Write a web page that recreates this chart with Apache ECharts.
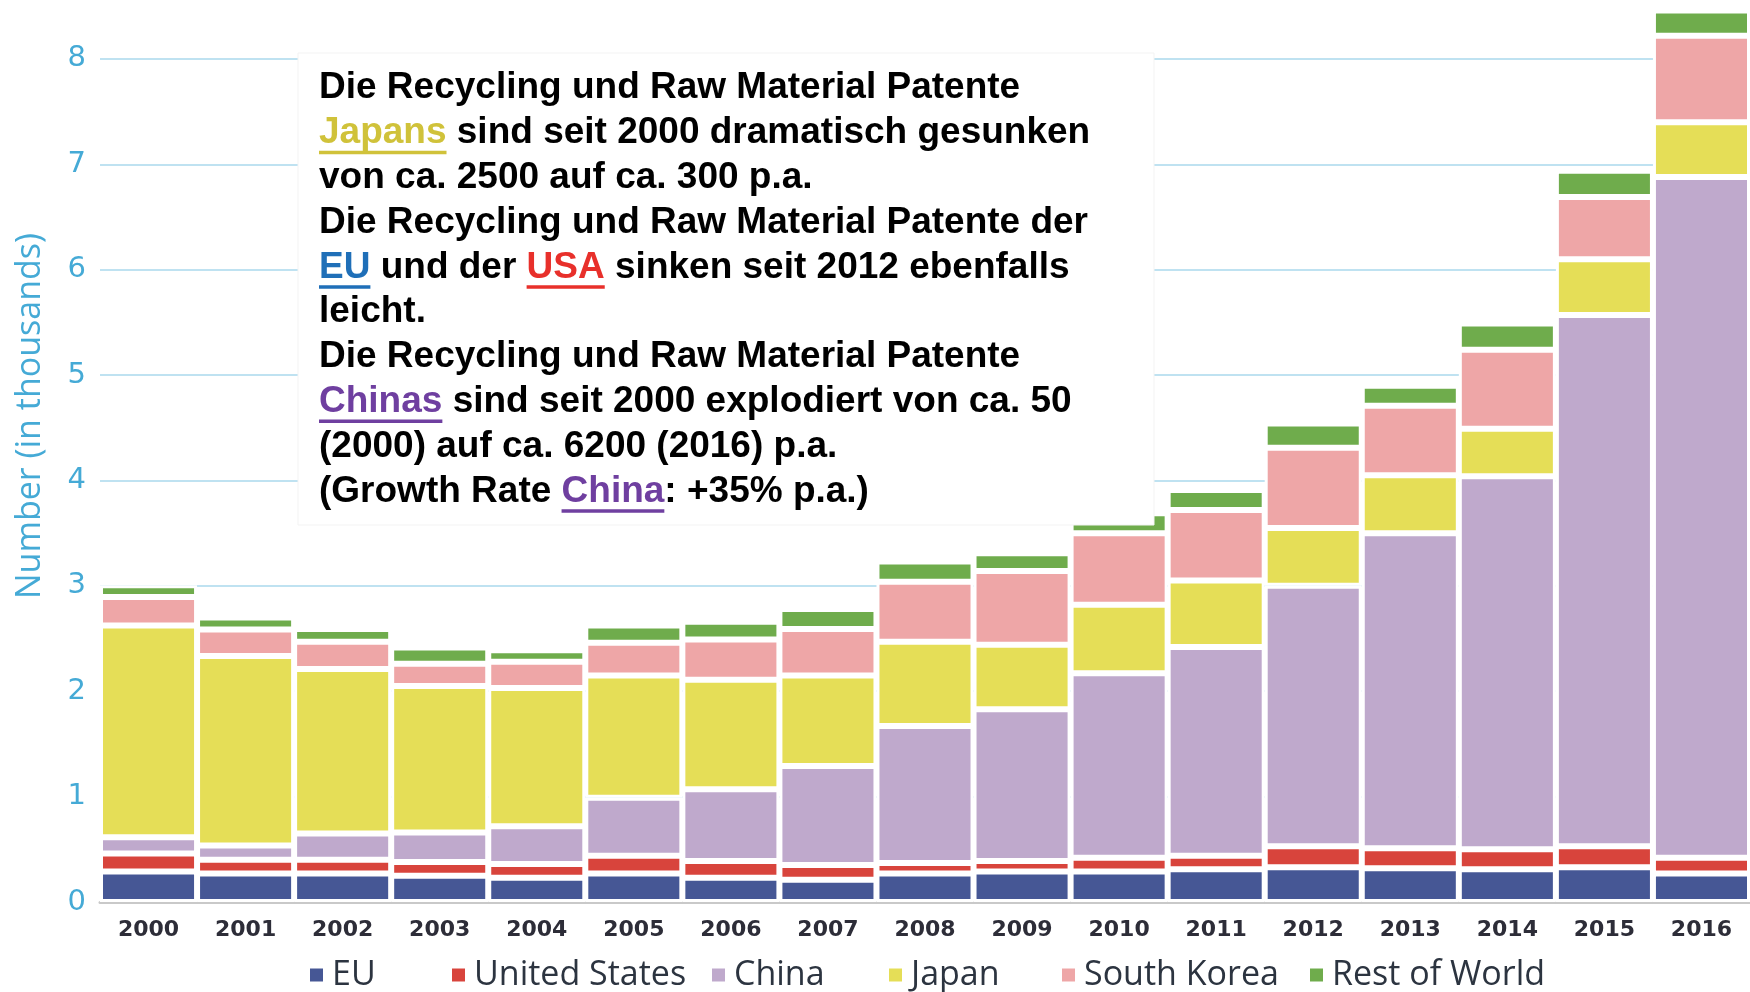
<!DOCTYPE html>
<html>
<head>
<meta charset="utf-8">
<title>Recycling and Raw Material Patents</title>
<script src="https://cdn.jsdelivr.net/npm/echarts@6/dist/echarts.min.js"></script>
<style>
  html, body { margin: 0; padding: 0; background: #fff; }
  #chart { width: 1750px; height: 992px; }
</style>
</head>
<body>
<div id="chart"></div>
<script>
// Patent filings per year, in thousands
const years = ['2000', '2001', '2002', '2003', '2004', '2005', '2006', '2007', '2008',
               '2009', '2010', '2011', '2012', '2013', '2014', '2015', '2016'];
const seriesNames = ['EU', 'United States', 'China', 'Japan', 'South Korea', 'Rest of World'];
const euValues    = [0.29, 0.27, 0.27, 0.25, 0.23, 0.27, 0.23, 0.21, 0.27, 0.29, 0.29, 0.31, 0.33, 0.32, 0.31, 0.33, 0.27];
const usValues    = [0.17, 0.13, 0.13, 0.13, 0.13, 0.17, 0.16, 0.14, 0.10, 0.10, 0.13, 0.13, 0.20, 0.19, 0.19, 0.20, 0.15];
const chinaValues = [0.155, 0.135, 0.25, 0.28, 0.36, 0.55, 0.68, 0.94, 1.30, 1.44, 1.75, 1.98, 2.47, 2.99, 3.54, 5.04, 6.46];
const japanValues = [2.01, 1.80, 1.56, 1.39, 1.31, 1.16, 1.04, 0.86, 0.80, 0.61, 0.65, 0.63, 0.55, 0.55, 0.45, 0.53, 0.52];
const koreaValues = [0.27, 0.25, 0.26, 0.21, 0.25, 0.31, 0.38, 0.44, 0.57, 0.70, 0.68, 0.67, 0.76, 0.66, 0.75, 0.59, 0.82];
const restValues  = [0.11, 0.115, 0.12, 0.155, 0.11, 0.165, 0.17, 0.19, 0.19, 0.17, 0.19, 0.19, 0.23, 0.19, 0.25, 0.25, 0.24];
const yAxisTitle = 'Number (in thousands)';

// Annotation text: each line is a list of [text, accent] segments
const noteLines = [
  [['Die Recycling und Raw Material Patente']],
  [['Japans', 'japan'], [' sind seit 2000 dramatisch gesunken']],
  [['von ca. 2500 auf ca. 300 p.a.']],
  [['Die Recycling und Raw Material Patente der']],
  [['EU', 'eu'], [' und der '], ['USA', 'usa'], [' sinken seit 2012 ebenfalls']],
  [['leicht.']],
  [['Die Recycling und Raw Material Patente']],
  [['Chinas', 'china'], [' sind seit 2000 explodiert von ca. 50']],
  [['(2000) auf ca. 6200 (2016) p.a.']],
  [['(Growth Rate '], ['China', 'china'], [': +35% p.a.)']]
];

const seriesColors = ['#465795', '#d8443c', '#bfa9cc', '#e5de57', '#eea6a7', '#6fac4c'];
const accentColors = { japan: '#d0c23a', eu: '#1f6fb8', usa: '#e8302b', china: '#6f3fa0' };
const seriesData = [euValues, usValues, chinaValues, japanValues, koreaValues, restValues];

// Layout of the annotation box
const NOTE_SIZE = 37;
const NOTE_FONT = 'bold ' + NOTE_SIZE + 'px "Liberation Sans", Arial, sans-serif';
const NOTE_X = 319;
const NOTE_BASE = 101;
const NOTE_LEAD = 44.8;

function buildNote() {
  const ctx = document.createElement('canvas').getContext('2d');
  ctx.font = NOTE_FONT;
  const els = [{
    type: 'rect', z: 100,
    shape: { x: 298, y: 53, width: 856, height: 472 },
    style: { fill: '#ffffff', stroke: '#f3f3f3', lineWidth: 1 }
  }];
  noteLines.forEach((segs, i) => {
    const base = NOTE_BASE + i * NOTE_LEAD;
    let x = NOTE_X;
    segs.forEach(([t, key]) => {
      const w = ctx.measureText(t).width;
      const color = key ? accentColors[key] : '#000000';
      els.push({
        type: 'text', z: 101,
        style: {
          text: t, x: x, y: base - 0.3465 * NOTE_SIZE,
          font: NOTE_FONT, fill: color,
          align: 'left', verticalAlign: 'middle'
        }
      });
      if (key) {
        els.push({
          type: 'rect', z: 101,
          shape: { x: x, y: base + 5, width: w, height: 3.5 },
          style: { fill: color }
        });
      }
      x += w;
    });
  });
  return els;
}

const legendLefts = [308, 450, 710, 887, 1060, 1308];

const chart = echarts.init(document.getElementById('chart'), null, { renderer: 'canvas' });
chart.setOption({
  animation: false,
  backgroundColor: '#ffffff',
  grid: { left: 100, right: 0, top: 1, bottom: 90, containLabel: false },
  legend: seriesNames.map((n, i) => ({
    data: [n],
    left: legendLefts[i],
    top: 958,
    padding: 0,
    icon: 'rect',
    itemWidth: 15,
    itemHeight: 15,
    selectedMode: false,
    textStyle: {
      fontFamily: '"Open Sans", sans-serif',
      fontSize: 34,
      color: '#2c3440',
      padding: [0, 0, 0, 3]
    }
  })),
  xAxis: {
    type: 'category',
    data: years,
    axisTick: { show: false },
    axisLine: { lineStyle: { color: '#c9c9c9', width: 3 } },
    axisLabel: {
      margin: 17,
      fontFamily: '"DejaVu Sans", sans-serif',
      fontWeight: 'bold',
      fontSize: 22,
      color: '#2d2d38'
    }
  },
  yAxis: {
    type: 'value',
    min: 0,
    max: 8.55,
    interval: 1,
    axisLine: { show: false },
    axisTick: { show: false },
    axisLabel: {
      margin: 14,
      showMaxLabel: false,
      fontFamily: '"DejaVu Sans", sans-serif',
      fontSize: 29,
      color: '#45aad6'
    },
    splitLine: {
      showMaxLine: false,
      lineStyle: { color: '#aad8ec', width: 1.5 }
    }
  },
  series: seriesNames.map((n, i) => ({
    name: n,
    type: 'bar',
    stack: 'total',
    data: seriesData[i],
    barCategoryGap: '0%',
    itemStyle: { color: seriesColors[i], borderColor: '#ffffff', borderWidth: 3 }
  })),
  graphic: [
    {
      type: 'text', z: 50,
      x: 30, y: 416, rotation: Math.PI / 2,
      style: {
        text: yAxisTitle,
        font: '500 34px "Open Sans", sans-serif',
        fill: '#45aad6',
        align: 'center', verticalAlign: 'middle'
      }
    }
  ].concat(buildNote())
});
</script>
</body>
</html>
